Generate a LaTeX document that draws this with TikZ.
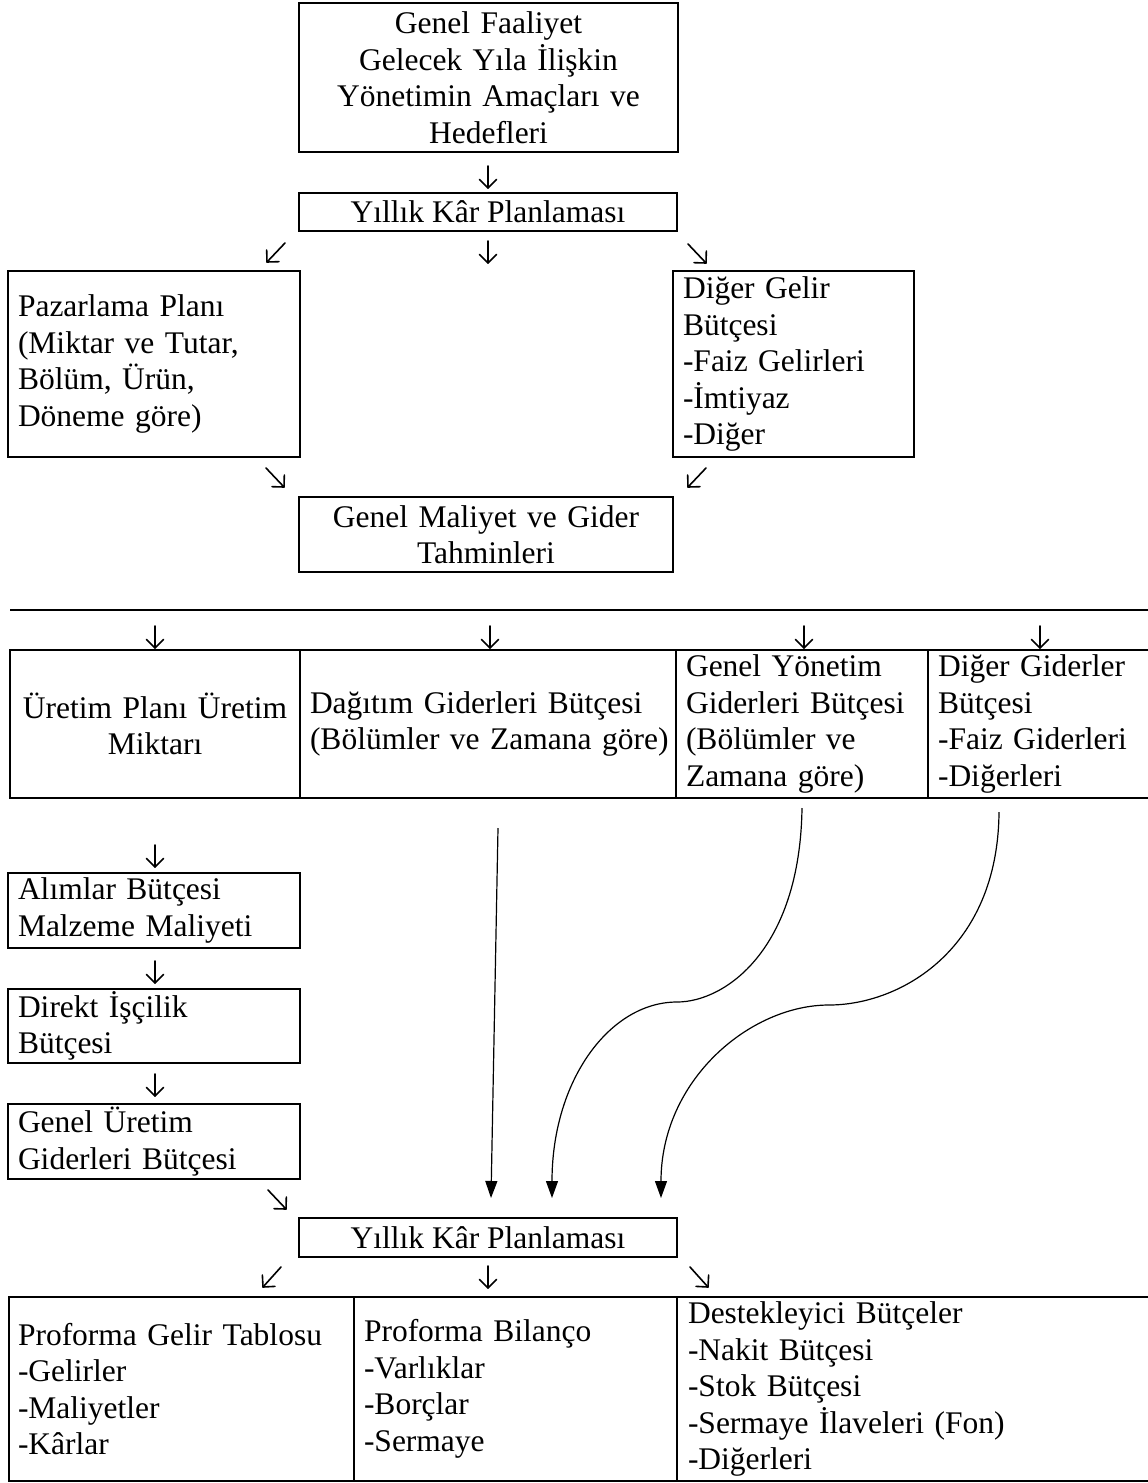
\documentclass[tikz,border=0pt]{standalone}
\usepackage{fontspec}
\setmainfont{Liberation Serif}
\usetikzlibrary{arrows.meta,calc}
\newcommand{\garrow}[2]{%
  \draw[glyphline] (#1) -- (#2);
  \draw[glyphline] ($(#2)!12pt!45:(#1)$) -- (#2) -- ($(#2)!12pt!-45:(#1)$);}
\begin{document}
\begin{tikzpicture}[x=1pt,y=-1pt,
  txt/.style={font=\fontsize{31.5}{36.5}\selectfont},
  box/.style={txt, draw, line width=2.6pt, inner xsep=10pt, inner ysep=2pt},
  glyphline/.style={line width=1.6pt, line cap=round, line join=round},
  flow/.style={line width=1.2pt, -{Triangle[width=12pt,length=17pt]}},
  rule/.style={line width=2.6pt}
]
\useasboundingbox (0,0) rectangle (1148,1483);
\fill[white] (0,0) rectangle (1148,1483);
\clip (0,0) rectangle (1148,1483);

% ---------- upper part ----------
\node[box, minimum width=379pt, minimum height=149pt, text width=359pt, align=center] (top) at (488.5,77.5)
  {Genel Faaliyet\\Gelecek Yıla İlişkin\\Yönetimin Amaçları ve\\Hedefleri};
\node[box, minimum width=378pt, minimum height=38pt, inner ysep=1pt] (kp1) at (488,212) {Yıllık Kâr Planlaması};
\node[box, minimum width=292pt, minimum height=186pt, text width=272pt, align=left] (pazar) at (154,364)
  {Pazarlama Planı\\(Miktar ve Tutar,\\Bölüm, Ürün,\\Döneme göre)};
\node[box, minimum width=241pt, minimum height=186pt, text width=221pt, align=left, inner ysep=1pt] (dgelir) at (793.5,364)
  {Diğer Gelir\\Bütçesi\\-Faiz Gelirleri\\-İmtiyaz\\-Diğer};
\node[box, minimum width=374pt, minimum height=75pt, text width=354pt, align=center] (genmal) at (486,534.5)
  {Genel Maliyet ve Gider\\Tahminleri};

% glyph arrows upper
\coordinate (a1s) at (488,166); \coordinate (a1e) at (488,188);
\garrow{a1s}{a1e}
\coordinate (b1s) at (285,243); \coordinate (b1e) at (267,262);
\coordinate (b2s) at (488,241); \coordinate (b2e) at (488,263);
\coordinate (b3s) at (688,244); \coordinate (b3e) at (706,263);
\garrow{b1s}{b1e}
\garrow{b2s}{b2e}
\garrow{b3s}{b3e}
\coordinate (c1s) at (266,468); \coordinate (c1e) at (284,487);
\coordinate (c2s) at (706,468); \coordinate (c2e) at (688,487);
\garrow{c1s}{c1e}
\garrow{c2s}{c2e}

% ---------- separator ----------
\coordinate (hl1) at (10,610); \coordinate (hl2) at (1160,610);
\draw[rule] (hl1) -- (hl2);
\coordinate (d1s) at (155,626); \coordinate (d1e) at (155,648);
\coordinate (d2s) at (490,626); \coordinate (d2e) at (490,648);
\coordinate (d3s) at (804,626); \coordinate (d3e) at (804,648);
\coordinate (d4s) at (1040,626); \coordinate (d4e) at (1040,648);
\garrow{d1s}{d1e}
\garrow{d2s}{d2e}
\garrow{d3s}{d3e}
\garrow{d4s}{d4e}

% ---------- middle table ----------
\node[box, minimum width=290pt, minimum height=148pt, text width=270pt, align=center] (m1) at (155,724)
  {Üretim Planı Üretim\\Miktarı};
\node[box, minimum width=376pt, minimum height=148pt, text width=356pt, align=left] (m2) at (488,724)
  {\mbox{Dağıtım Giderleri Bütçesi}\\\mbox{(Bölümler ve Zamana göre)}};
\node[box, minimum width=252pt, minimum height=148pt, text width=232pt, align=left, inner ysep=1pt] (m3) at (802,724)
  {Genel Yönetim\\Giderleri Bütçesi\\(Bölümler ve\\Zamana göre)};
\node[box, minimum width=232pt, minimum height=148pt, text width=212pt, align=left, inner ysep=1pt] (m4) at (1044,724)
  {Diğer Giderler\\Bütçesi\\-Faiz Giderleri\\-Diğerleri};

% ---------- left column ----------
\node[box, minimum width=292pt, minimum height=75pt, text width=272pt, align=left] (alim) at (154,910.5)
  {Alımlar Bütçesi\\Malzeme Maliyeti};
\node[box, minimum width=292pt, minimum height=74pt, text width=272pt, align=left] (isci) at (154,1026)
  {Direkt İşçilik\\Bütçesi};
\node[box, minimum width=292pt, minimum height=75pt, text width=272pt, align=left] (genur) at (154,1141.5)
  {Genel Üretim\\Giderleri Bütçesi};
\coordinate (e1s) at (155,845); \coordinate (e1e) at (155,867);
\coordinate (e2s) at (155,961); \coordinate (e2e) at (155,983);
\coordinate (e3s) at (155,1074); \coordinate (e3e) at (155,1096);
\coordinate (e4s) at (268,1190); \coordinate (e4e) at (286,1209);
\garrow{e1s}{e1e}
\garrow{e2s}{e2e}
\garrow{e3s}{e3e}
\garrow{e4s}{e4e}

% ---------- lower box ----------
\node[box, minimum width=378pt, minimum height=39pt, inner ysep=1pt] (kp2) at (488,1237.5) {Yıllık Kâr Planlaması};

% connectors from the table to the lower box
\coordinate (s1) at (498,828); \coordinate (s2) at (491,1198);
\draw[flow] (s1) -- (s2);
\coordinate (q1a) at (802,808); \coordinate (q1m) at (677,1002); \coordinate (q1b) at (552,1198);
\draw[flow] (q1a) .. controls (800,950) and (725,1002) .. (q1m)
                  .. controls (610,1002) and (552,1080) .. (q1b);
\coordinate (q2a) at (999,812); \coordinate (q2m) at (829,1005); \coordinate (q2b) at (661,1198);
\draw[flow] (q2a) .. controls (998,950) and (900,1005) .. (q2m)
                  .. controls (750,1005) and (661,1080) .. (q2b);

% glyph arrows bottom
\coordinate (f1s) at (281,1267); \coordinate (f1e) at (263,1287);
\coordinate (f2s) at (488,1266); \coordinate (f2e) at (488,1288);
\coordinate (f3s) at (690,1267); \coordinate (f3e) at (708,1287);
\garrow{f1s}{f1e}
\garrow{f2s}{f2e}
\garrow{f3s}{f3e}

% ---------- bottom table ----------
\node[box, minimum width=345pt, minimum height=184pt, text width=327pt, inner xsep=9pt, align=left] (p1) at (181.5,1389)
  {Proforma Gelir Tablosu\\-Gelirler\\-Maliyetler\\-Kârlar};
\node[box, minimum width=323pt, minimum height=184pt, text width=303pt, align=left] (p2) at (515.5,1389)
  {Proforma Bilanço\\-Varlıklar\\-Borçlar\\-Sermaye};
\node[box, minimum width=483pt, minimum height=184pt, text width=461pt, inner xsep=11pt, align=left, inner ysep=1pt] (p3) at (918.5,1389)
  {Destekleyici Bütçeler\\-Nakit Bütçesi\\-Stok Bütçesi\\-Sermaye İlaveleri (Fon)\\-Diğerleri};
\end{tikzpicture}
\end{document}
